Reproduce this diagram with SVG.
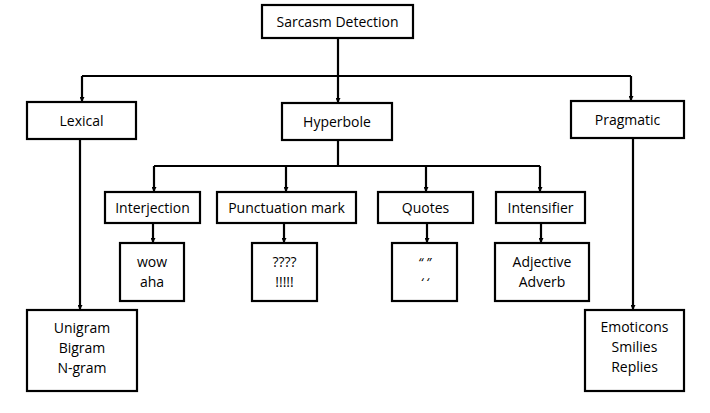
<svg xmlns="http://www.w3.org/2000/svg" width="710" height="413" viewBox="0 0 710 413">
<style>
.box{fill:#fff;stroke:#000;stroke-width:2.2}
.ln{fill:none;stroke:#000;stroke-width:2.2}
text{font-family:"Open Sans","Liberation Sans",sans-serif;font-size:14px;fill:#000;text-anchor:middle}
.q{font-style:italic;font-size:13px}
</style>
<defs>
<marker id="ah" markerWidth="6" markerHeight="5" refX="5" refY="2.5" orient="auto" markerUnits="userSpaceOnUse">
<path d="M0,0 L5,2.5 L0,5 Z" fill="#000"/>
</marker>
</defs>
<rect width="710" height="413" fill="#fff"/>
<g id="connectors">
<path class="ln" d="M338,38 V76"/>
<path class="ln" d="M82,76 H631"/>
<path class="ln" d="M82,76 V102" marker-end="url(#ah)"/>
<path class="ln" d="M338,76 V103" marker-end="url(#ah)"/>
<path class="ln" d="M631,76 V101" marker-end="url(#ah)"/>
<path class="ln" d="M338,140 V166"/>
<path class="ln" d="M154,166 H540"/>
<path class="ln" d="M154,166 V192" marker-end="url(#ah)"/>
<path class="ln" d="M286,166 V192" marker-end="url(#ah)"/>
<path class="ln" d="M426,166 V192" marker-end="url(#ah)"/>
<path class="ln" d="M540,166 V192" marker-end="url(#ah)"/>
<path class="ln" d="M153,223 V243" marker-end="url(#ah)"/>
<path class="ln" d="M284,223 V243" marker-end="url(#ah)"/>
<path class="ln" d="M427,223 V243" marker-end="url(#ah)"/>
<path class="ln" d="M541,223 V243" marker-end="url(#ah)"/>
<path class="ln" d="M80,139 V310" marker-end="url(#ah)"/>
<path class="ln" d="M633,138 V310" marker-end="url(#ah)"/>
</g>
<g id="root"><rect class="box" x="262" y="5" width="151" height="33"/><text x="337.5" y="26.5">Sarcasm Detection</text></g>
<g id="lexical"><rect class="box" x="27" y="102" width="109" height="37"/><text x="81.5" y="125.5">Lexical</text></g>
<g id="hyperbole"><rect class="box" x="282" y="103" width="110" height="37"/><text x="337" y="126.5">Hyperbole</text></g>
<g id="pragmatic"><rect class="box" x="571" y="101" width="113" height="37"/><text x="627.5" y="124.5">Pragmatic</text></g>
<g id="interjection"><rect class="box" x="105" y="192" width="95" height="31"/><text x="152.5" y="212.5">Interjection</text></g>
<g id="punctuation"><rect class="box" x="217" y="192" width="139" height="31"/><text x="286.5" y="212.5">Punctuation mark</text></g>
<g id="quotes"><rect class="box" x="378" y="192" width="95" height="31"/><text x="425.5" y="212.5">Quotes</text></g>
<g id="intensifier"><rect class="box" x="496" y="192" width="89" height="31"/><text x="540.5" y="212.5">Intensifier</text></g>
<g id="wow"><rect class="box" x="120" y="243" width="64" height="58"/><text x="152" y="267">wow</text><text x="152" y="287">aha</text></g>
<g id="punct-ex"><rect class="box" x="252" y="243" width="65" height="58"/><text x="284.5" y="267">????</text><text x="284.5" y="287">!!!!!</text></g>
<g id="quotes-ex"><rect class="box" x="392" y="243" width="65" height="58"/><text class="q" x="424.5" y="267">“ ”</text><text class="q" x="424.5" y="287">‘ ‘</text></g>
<g id="intens-ex"><rect class="box" x="495" y="243" width="94" height="58"/><text x="542" y="267">Adjective</text><text x="542" y="287">Adverb</text></g>
<g id="ngram"><rect class="box" x="27" y="310" width="110" height="81"/><text x="82" y="333">Unigram</text><text x="82" y="353">Bigram</text><text x="82" y="373">N-gram</text></g>
<g id="emoticons"><rect class="box" x="585" y="310" width="99" height="81"/><text x="634.5" y="332">Emoticons</text><text x="634.5" y="352">Smilies</text><text x="634.5" y="372">Replies</text></g>
</svg>
